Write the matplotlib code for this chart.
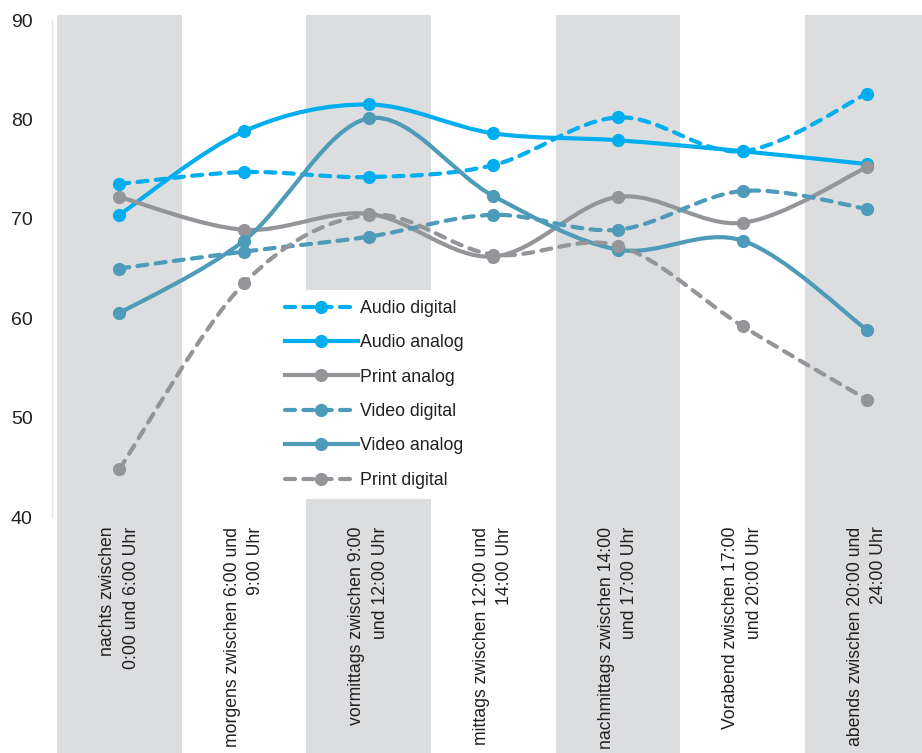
import numpy as np
import matplotlib
matplotlib.use("Agg")
import matplotlib.pyplot as plt
from matplotlib.path import Path
from matplotlib.patches import PathPatch, Rectangle
from matplotlib.lines import Line2D
import matplotlib.transforms as mtransforms

plt.rcParams['font.family'] = ['Liberation Sans', 'DejaVu Sans']

categories = [
    "nachts zwischen\n0:00 und 6:00 Uhr",
    "morgens zwischen 6:00 und\n9:00 Uhr",
    "vormittags zwischen 9:00\nund 12:00 Uhr",
    "mittags zwischen 12:00 und\n14:00 Uhr",
    "nachmittags zwischen 14:00\nund 17:00 Uhr",
    "Vorabend zwischen 17:00\nund 20:00 Uhr",
    "abends zwischen 20:00 und\n24:00 Uhr",
]

audio_digital = [73.5, 74.7, 74.2, 75.4, 80.2, 76.8, 82.6]
audio_analog = [70.4, 78.8, 81.5, 78.6, 77.9, 76.8, 75.5]
print_analog = [72.2, 68.9, 70.5, 66.2, 72.2, 69.6, 75.2]
video_digital = [65.0, 66.7, 68.2, 70.4, 68.9, 72.8, 71.0]
video_analog = [60.5, 67.8, 80.1, 72.3, 66.9, 67.8, 58.8]
print_digital = [44.8, 63.5, 70.4, 66.4, 67.3, 59.2, 51.8]

BLUE = "#00aeef"
TEAL = "#4d9bb9"
GRAY = "#939598"
BAND = "#dcdddf"
TEXT = "#231f20"

series = [
    ("Audio digital", audio_digital, BLUE, True),
    ("Audio analog", audio_analog, BLUE, False),
    ("Print analog", print_analog, GRAY, False),
    ("Video digital", video_digital, TEAL, True),
    ("Video analog", video_analog, TEAL, False),
    ("Print digital", print_digital, GRAY, True),
]

DASH = (0, (2.4, 2.0))
LW = 3.0
MS = 8.5


def smooth_path(xs, ys):
    # bezier segments with catmull-rom style control points (like excel smoothing)
    pts = np.column_stack([xs, ys]).astype(float)
    n = len(pts)
    verts = [pts[0]]
    codes = [Path.MOVETO]
    for i in range(n - 1):
        p0 = pts[i - 1] if i > 0 else pts[i]
        p1 = pts[i]
        p2 = pts[i + 1]
        p3 = pts[i + 2] if i + 2 < n else pts[i + 1]
        c1 = p1 + (p2 - p0) / 6.0
        c2 = p2 - (p3 - p1) / 6.0
        verts += [c1, c2, p2]
        codes += [Path.CURVE4] * 3
    return Path(verts, codes)


fig = plt.figure(figsize=(9.22, 7.53), dpi=100)
ax = fig.add_axes([52 / 922, 1 - 517 / 753, 870 / 922, 497 / 753])

x = np.arange(len(categories))
ax.set_xlim(-0.54, 6.44)
ax.set_ylim(40, 90)

# grey column bands, running down through the label area
trans = mtransforms.blended_transform_factory(ax.transData, ax.transAxes)
for i in range(0, len(categories), 2):
    ax.add_patch(Rectangle((i - 0.5, -0.6), 1.0, 1.61, transform=trans,
                           facecolor=BAND, edgecolor='none', zorder=0.5,
                           clip_on=False))

handles = []
for name, vals, col, dashed in series:
    ls = DASH if dashed else '-'
    patch = PathPatch(smooth_path(x, vals), facecolor='none', edgecolor=col,
                      linewidth=LW, linestyle=ls, capstyle='round', zorder=3)
    ax.add_patch(patch)
    ax.plot(x, vals, linestyle='none', marker='o', markersize=MS,
            color=col, zorder=4)
    h = Line2D([], [], color=col, linewidth=LW, linestyle=ls, marker='o',
               markersize=MS, dash_capstyle='round')
    handles.append((h, name))

for s in ['top', 'right', 'bottom']:
    ax.spines[s].set_visible(False)
ax.spines['left'].set_color('#e6e6e6')
ax.spines['left'].set_linewidth(1.0)

ax.set_yticks([40, 50, 60, 70, 80, 90])
ax.tick_params(axis='y', length=0, pad=14, labelsize=14, labelcolor=TEXT)
ax.set_xticks(x)
ax.set_xticklabels(categories, rotation=90, ha='center', va='top',
                   multialignment='right', fontsize=12.7, color=TEXT,
                   linespacing=1.5)
ax.tick_params(axis='x', length=0, pad=7)

leg = ax.legend([h for h, _ in handles], [n for _, n in handles],
                loc='upper left', bbox_to_anchor=(275 / 922, 1 - 290 / 753),
                bbox_transform=fig.transFigure, fontsize=12.8, frameon=True,
                handlelength=4.1, handletextpad=0.15, labelspacing=0.98,
                borderpad=0.55, borderaxespad=0, numpoints=1)
leg.get_frame().set_facecolor('white')
leg.get_frame().set_edgecolor('none')
leg.get_frame().set_alpha(1)
leg.set_zorder(5)
for t in leg.get_texts():
    t.set_color(TEXT)

fig.savefig("out.png", dpi=100)
